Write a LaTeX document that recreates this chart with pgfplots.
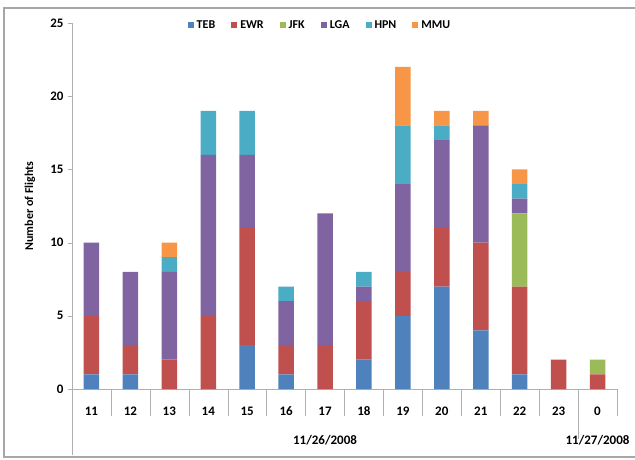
\documentclass[border=0pt]{standalone}
\usepackage{fontspec}
\setmainfont{Carlito}
\usepackage{pgfplots}
\pgfplotsset{compat=1.18}
\definecolor{cTEB}{HTML}{4F81BD}
\definecolor{cEWR}{HTML}{C0504D}
\definecolor{cJFK}{HTML}{9BBB59}
\definecolor{cLGA}{HTML}{8064A2}
\definecolor{cHPN}{HTML}{4BACC6}
\definecolor{cMMU}{HTML}{F79646}
\definecolor{axgray}{HTML}{B0B0B0}
\newcommand{\cf}{\fontsize{13}{15}\selectfont\bfseries}
\newcommand{\lf}{\fontsize{12}{14}\selectfont\bfseries}
\begin{document}
\begin{tikzpicture}
\useasboundingbox (0pt,0pt) rectangle (635pt,459pt);
\draw[gray!70, line width=1.2pt] (635pt,451pt) -- (4pt,451pt) -- (4pt,2pt) -- (635pt,2pt);
\begin{axis}[
  at={(72pt,70pt)}, anchor=south west, scale only axis,
  width=545pt, height=366pt,
  ybar stacked, bar width=15.5pt,
  xmin=-0.5, xmax=13.5, ymin=0, ymax=25,
  axis x line*=bottom, axis y line*=left,
  axis line style={draw=axgray},
  clip=false,
  tick align=outside,
  major tick length=4pt,
  ytick={0,5,...,25},
  y tick style={draw=axgray},
  y tick label style={xshift=-1pt},
  xtick={0,1,...,13},
  xticklabels={11,12,13,14,15,16,17,18,19,20,21,22,23,0},
  x tick style={draw=none},
  x tick label style={anchor=center, yshift=-18pt},
  tick label style={font=\cf},
  /pgf/number format/assume math mode=true,
  ylabel={Number of Flights},
  ylabel style={font=\lf, at={(axis description cs:-0.077,0.5)}, anchor=center},
  legend style={at={(axis description cs:0.455,0.994)}, anchor=center, legend columns=6,
    draw=none, fill=none, font=\lf,
    /tikz/every even column/.append style={column sep=14pt},
    /tikz/every odd column/.append style={column sep=1pt}},
  legend image code/.code={\fill[#1] (0pt,-3pt) rectangle (6pt,3pt);},
]
\addplot[fill=cTEB, draw=none] coordinates {(0,1) (1,1) (2,0) (3,0) (4,3) (5,1) (6,0) (7,2) (8,5) (9,7) (10,4) (11,1) (12,0) (13,0)};
\addplot[fill=cEWR, draw=none] coordinates {(0,4) (1,2) (2,2) (3,5) (4,8) (5,2) (6,3) (7,4) (8,3) (9,4) (10,6) (11,6) (12,2) (13,1)};
\addplot[fill=cJFK, draw=none] coordinates {(0,0) (1,0) (2,0) (3,0) (4,0) (5,0) (6,0) (7,0) (8,0) (9,0) (10,0) (11,5) (12,0) (13,1)};
\addplot[fill=cLGA, draw=none] coordinates {(0,5) (1,5) (2,6) (3,11) (4,5) (5,3) (6,9) (7,1) (8,6) (9,6) (10,8) (11,1) (12,0) (13,0)};
\addplot[fill=cHPN, draw=none] coordinates {(0,0) (1,0) (2,1) (3,3) (4,3) (5,1) (6,0) (7,1) (8,4) (9,1) (10,0) (11,1) (12,0) (13,0)};
\addplot[fill=cMMU, draw=none] coordinates {(0,0) (1,0) (2,1) (3,0) (4,0) (5,0) (6,0) (7,0) (8,4) (9,1) (10,1) (11,1) (12,0) (13,0)};
\legend{TEB,EWR,JFK,LGA,HPN,MMU}
\pgfplotsinvokeforeach{-0.5,0.5,1.5,2.5,3.5,4.5,5.5,6.5,7.5,8.5,9.5,10.5,11.5,13.5}{
  \draw[axgray] (axis cs:#1,0) -- ++(0pt,-27pt);
}
\draw[axgray] (axis cs:-0.5,0) -- ++(0pt,-66pt);
\draw[axgray] (axis cs:12.5,0) -- ++(0pt,-50pt);
\node[font=\cf] at (axis cs:6,0) [yshift=-51pt] {11/26/2008};
\node[font=\cf] at (axis cs:13,0) [yshift=-51pt] {11/27/2008};
\end{axis}
\end{tikzpicture}
\end{document}
